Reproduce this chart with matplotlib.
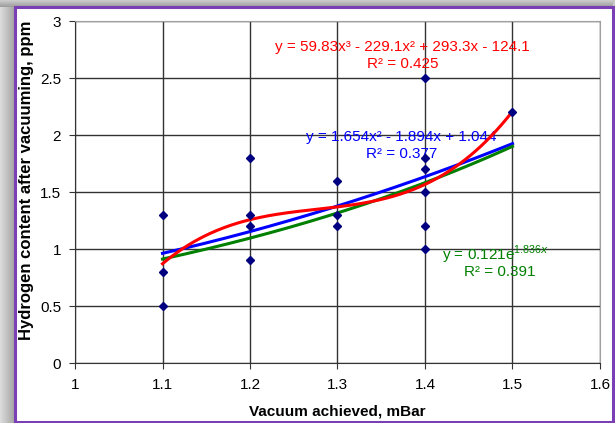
import matplotlib.pyplot as plt
import numpy as np
from matplotlib.patches import Rectangle

plt.rcParams['font.family'] = ['Liberation Sans', 'DejaVu Sans']
plt.rcParams['mathtext.fontset'] = 'custom'
plt.rcParams['mathtext.rm'] = 'Liberation Sans'

# measured points
vacuum = [1.1, 1.1, 1.1, 1.2, 1.2, 1.2, 1.2, 1.3, 1.3, 1.3,
          1.4, 1.4, 1.4, 1.4, 1.4, 1.4, 1.5]
hydrogen = [1.3, 0.8, 0.5, 1.8, 1.3, 1.2, 0.9, 1.6, 1.3, 1.2,
            2.5, 1.8, 1.7, 1.5, 1.2, 1.0, 2.2]

# trend line coefficients (labels show them rounded)
cubic = [59.83, -229.1, 293.27, -124.149]
cubic_r2 = 0.425
quad = [1.654, -1.894, 1.044]
quad_r2 = 0.377
exp_a, exp_b = 0.121, 1.836
exp_r2 = 0.391

fig = plt.figure(figsize=(6.15, 4.23), dpi=100)

# grey shaded frame behind the white chart panel
bg = fig.add_axes([0, 0, 1, 1], zorder=-10)
bg.set_axis_off()
grad = np.linspace(0.86, 0.64, 15)
bg.imshow(np.tile(grad, (10, 1)), cmap='gray', vmin=0, vmax=1,
          extent=[0, 15 / 615, 0, 1], aspect='auto')
bg.imshow(np.tile(np.linspace(0.80, 0.62, 7)[:, None], (1, 10)), cmap='gray',
          vmin=0, vmax=1, extent=[0, 1, 1 - 7 / 423, 1], aspect='auto')
bg.add_patch(Rectangle((613 / 615, 0), 2 / 615, 1, color='#c8c8c8'))
bg.add_patch(Rectangle((15 / 615, 1 / 423), 598 / 615, 415 / 423,
                       facecolor='white', edgecolor='#7b3fb5', lw=2.2))
bg.set_xlim(0, 1)
bg.set_ylim(0, 1)

ax = fig.add_axes([75 / 615, 1 - 363 / 423, 525 / 615, 342 / 423])
ax.set_xlim(1, 1.6)
ax.set_ylim(0, 3)
ax.set_xticks(np.arange(1, 1.61, 0.1))
ax.set_yticks(np.arange(0, 3.01, 0.5))
ax.set_xticklabels(['1', '1.1', '1.2', '1.3', '1.4', '1.5', '1.6'])
ax.set_yticklabels(['0', '0.5', '1', '1.5', '2', '2.5', '3'])
ax.grid(True, color='#333333', lw=1.0)
ax.set_axisbelow(True)
for s in ['top', 'right']:
    ax.spines[s].set_color('#a0a0a0')
for s in ['left', 'bottom']:
    ax.spines[s].set_color('#333333')
ax.tick_params(labelsize=11, length=4, color='#333333', direction='out')
ax.tick_params(axis='x', pad=7)
ax.tick_params(axis='y', pad=6)

xs = np.linspace(1.1, 1.5, 200)
ax.plot(xs, np.polyval(quad, xs), color='#0000ff', lw=2.2, zorder=3)
ax.plot(xs, exp_a * np.exp(exp_b * xs), color='#008000', lw=2.2, zorder=3)
ax.plot(xs, np.polyval(cubic, xs), color='#ff0000', lw=2.2, zorder=4)
ax.plot(vacuum, hydrogen, linestyle='none', marker='D', markersize=4.4,
        color='#000080', zorder=5)

ax.text(1.3745, 2.77, 'y = %.2fx³ - %.1fx² + %.1fx - %.1f' % (cubic[0], -cubic[1], cubic[2], -cubic[3]),
        color='#ff0000', fontsize=11, ha='center', va='center')
ax.text(1.3745, 2.625, 'R² = %.3f' % cubic_r2, color='#ff0000', fontsize=11,
        ha='center', va='center')
ax.text(1.373, 1.98, 'y = %.3fx² - %.3fx + %.3f' % (quad[0], -quad[1], quad[2]),
        color='#0000ff', fontsize=11, ha='center', va='center')
ax.text(1.373, 1.835, 'R² = %.3f' % quad_r2, color='#0000ff', fontsize=11,
        ha='center', va='center')
ax.text(1.4805, 0.945, 'y = %.3fe$^{%.3fx}$' % (exp_a, exp_b),
        color='#008000', fontsize=11, ha='center', va='center')
ax.text(1.485, 0.795, 'R² = %.3f' % exp_r2, color='#008000', fontsize=11,
        ha='center', va='center')

ax.set_xlabel('Vacuum achieved, mBar', fontsize=11, fontweight='bold', labelpad=9)
ax.set_ylabel('Hydrogen content after vacuuming, ppm', fontsize=12,
              fontweight='bold', labelpad=4)
ax.yaxis.label.set_y(0.535)

fig.savefig('out.png', dpi=100)
